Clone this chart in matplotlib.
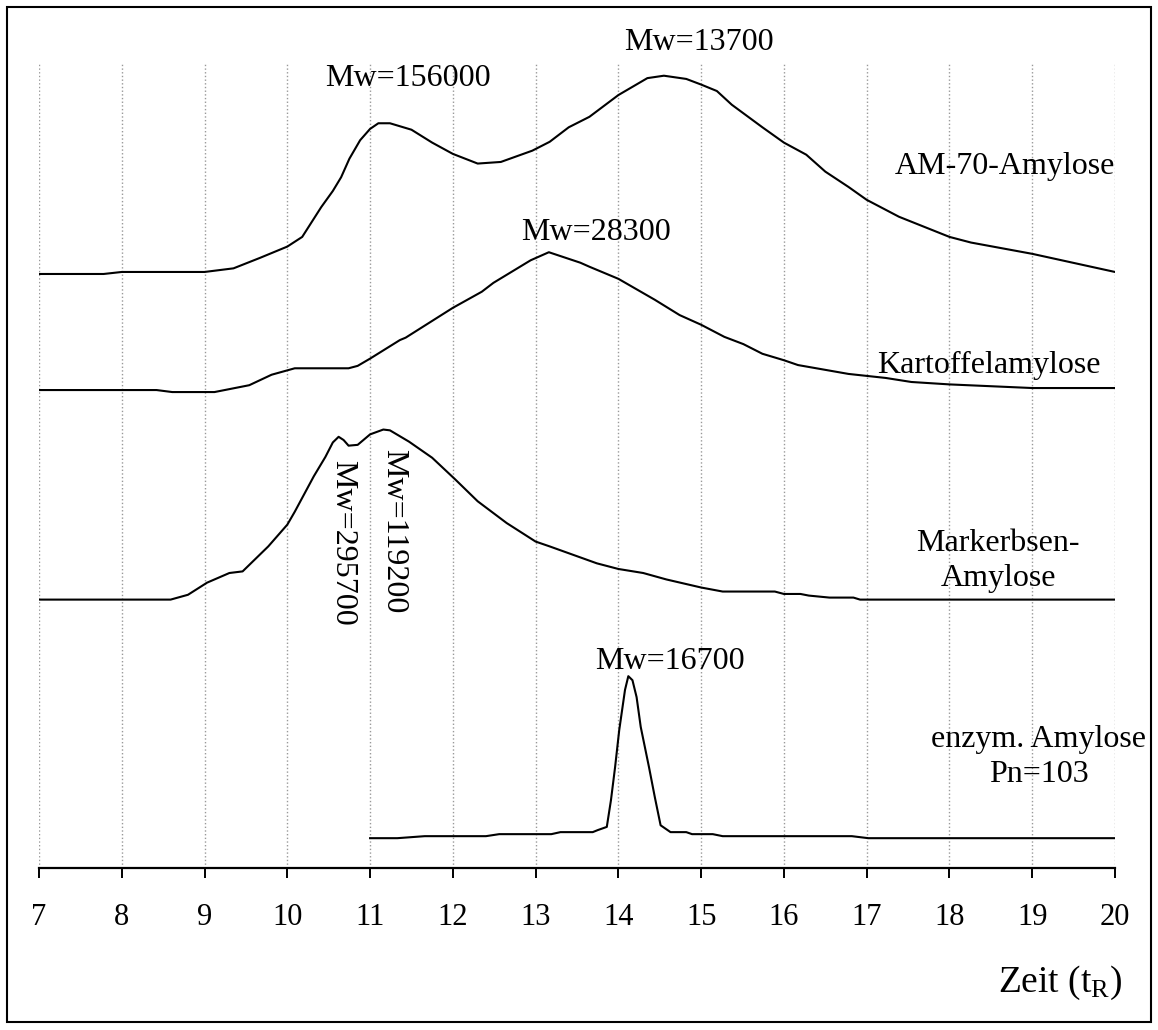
import numpy as np
import matplotlib
matplotlib.use("Agg")
import matplotlib.pyplot as plt
from matplotlib.patches import Rectangle

plt.rcParams["font.family"] = ["Liberation Serif", "DejaVu Serif"]
plt.rcParams["mathtext.fontset"] = "custom"
plt.rcParams["mathtext.rm"] = "Liberation Serif"
plt.rcParams["mathtext.it"] = "Liberation Serif:italic"

# ===========================================
# GPC traces (retention time vs. detector response)
# ===========================================

t_am70 = [7.0, 7.78, 8.0, 9.0, 9.35, 9.67, 10.0, 10.18, 10.41, 10.55, 10.65, 10.75,
          10.88, 11.0, 11.1, 11.24, 11.5, 11.75, 12.0, 12.3, 12.58, 12.96, 13.17,
          13.4, 13.65, 14.0, 14.35, 14.55, 14.82, 15.0, 15.19, 15.37, 15.74, 16.0,
          16.27, 16.5, 16.78, 17.0, 17.39, 18.0, 18.26, 19.0, 20.0]
s_am70 = [0.0, 0.0, 0.25, 0.25, 0.7, 2.0, 3.4, 4.6, 8.3, 10.3, 12.0, 14.3,
          16.6, 18.0, 18.7, 18.7, 17.9, 16.3, 14.9, 13.7, 13.9, 15.3, 16.4,
          18.2, 19.5, 22.2, 24.3, 24.6, 24.2, 23.5, 22.7, 21.0, 18.2, 16.3,
          14.8, 12.7, 10.8, 9.2, 7.1, 4.6, 3.9, 2.5, 0.25]

t_kart = [7.0, 8.42, 8.61, 9.12, 9.54, 9.81, 10.09, 10.74, 10.85, 11.0, 11.36,
          11.43, 12.0, 12.35, 12.49, 12.94, 13.16, 13.54, 13.65, 14.0, 14.44,
          14.74, 15.0, 15.28, 15.51, 15.74, 16.0, 16.17, 16.78, 17.23, 17.54,
          18.0, 19.0, 20.0]
s_kart = [0.0, 0.0, -0.25, -0.25, 0.6, 1.9, 2.7, 2.7, 3.0, 3.9, 6.2,
          6.5, 10.2, 12.2, 13.3, 16.1, 17.1, 15.8, 15.3, 13.8, 11.2,
          9.3, 8.1, 6.6, 5.7, 4.5, 3.7, 3.1, 2.0, 1.5, 1.0,
          0.7, 0.25, 0.25]

t_erbs = [7.0, 8.59, 8.8, 9.03, 9.3, 9.46, 9.77, 10.0, 10.09, 10.32, 10.46, 10.55,
          10.62, 10.68, 10.74, 10.85, 11.0, 11.16, 11.24, 11.47, 11.75, 12.03,
          12.3, 12.65, 13.0, 13.17, 13.74, 14.0, 14.3, 14.58, 15.0, 15.26, 15.89,
          16.0, 16.2, 16.3, 16.55, 16.84, 16.92, 20.0]
s_erbs = [0.0, 0.0, 0.6, 2.1, 3.3, 3.5, 6.6, 9.3, 10.9, 15.3, 17.7, 19.5,
          20.2, 19.8, 19.1, 19.2, 20.5, 21.1, 21.0, 19.6, 17.6, 14.9,
          12.2, 9.5, 7.2, 6.6, 4.5, 3.8, 3.3, 2.5, 1.5, 1.0, 1.0,
          0.7, 0.7, 0.5, 0.25, 0.25, 0.0, 0.0]

t_enz = [11.0, 11.33, 11.66, 12.4, 12.56, 13.19, 13.3, 13.69, 13.75, 13.86, 13.91,
         13.96, 14.01, 14.08, 14.12, 14.17, 14.22, 14.27, 14.37, 14.44, 14.51,
         14.63, 14.82, 14.89, 15.14, 15.26, 16.82, 17.02, 20.0]
s_enz = [0.0, 0.0, 0.25, 0.25, 0.5, 0.5, 0.75, 0.75, 1.0, 1.4, 4.7,
         8.8, 13.4, 18.4, 20.1, 19.6, 17.5, 13.8, 8.8, 5.1, 1.6,
         0.75, 0.75, 0.5, 0.5, 0.25, 0.25, 0.0, 0.0]

# vertical offset of each trace in the stacked plot
offsets = {"am70": 73.7, "kart": 59.3, "erbs": 33.3, "enz": 3.7}

ticks = np.arange(7, 21)

# ===========================================
# Plot
# ===========================================

fig = plt.figure(figsize=(11.58, 10.30), dpi=100)
ax = fig.add_axes([0.03368, 0.15728, 0.92919, 0.78252])

ax.plot(t_am70, np.array(s_am70) + offsets["am70"], color="black", lw=1.5)
ax.plot(t_kart, np.array(s_kart) + offsets["kart"], color="black", lw=1.5)
ax.plot(t_erbs, np.array(s_erbs) + offsets["erbs"], color="black", lw=1.5)
ax.plot(t_enz, np.array(s_enz) + offsets["enz"], color="black", lw=1.5)

ax.set_xlim(7, 20)
ax.set_ylim(0, 100)
ax.set_xticks(ticks)
ax.set_yticks([])
for x in ticks:
    ax.axvline(x, color="#999999", ls=":", lw=1.0, zorder=0)

for side in ["left", "right", "top"]:
    ax.spines[side].set_visible(False)
ax.spines["bottom"].set_linewidth(1.6)
ax.tick_params(axis="x", direction="out", length=7, width=1.4, pad=18,
               labelsize=22)

# peak labels
fs = 23
ax.text(11.46, 97.9, "Mw=156000", ha="center", va="center", fontsize=fs)
ax.text(14.97, 102.4, "Mw=13700", ha="center", va="center", fontsize=fs,
        clip_on=False)
ax.text(20.0, 87.0, "AM-70-Amylose", ha="right", va="center", fontsize=fs)
ax.text(13.73, 78.9, "Mw=28300", ha="center", va="center", fontsize=fs)
ax.text(19.83, 62.4, "Kartoffelamylose", ha="right", va="center", fontsize=fs)
ax.text(10.67, 40.3, "Mw=295700", ha="center", va="center", fontsize=fs,
        rotation=270)
ax.text(11.28, 41.8, "Mw=119200", ha="center", va="center", fontsize=fs,
        rotation=270)
ax.text(18.59, 38.1, "Markerbsen-\nAmylose", ha="center", va="center",
        fontsize=fs, multialignment="center", linespacing=1.25)
ax.text(14.62, 25.6, "Mw=16700", ha="center", va="center", fontsize=fs)
ax.text(19.08, 13.8, "enzym. Amylose\nPn=103", ha="center", va="center",
        fontsize=fs, multialignment="center", linespacing=1.25)

fig.text(1122 / 1158, 1 - 983 / 1030, r"Zeit (t$_{\mathrm{R}}$)",
         ha="right", va="center", fontsize=27)

# frame around the whole figure
fig.patches.append(Rectangle((7 / 1158, 8 / 1030), 1144 / 1158, 1015 / 1030,
                             transform=fig.transFigure, fill=False,
                             edgecolor="black", lw=1.5))

fig.savefig("out.png", dpi=100)
